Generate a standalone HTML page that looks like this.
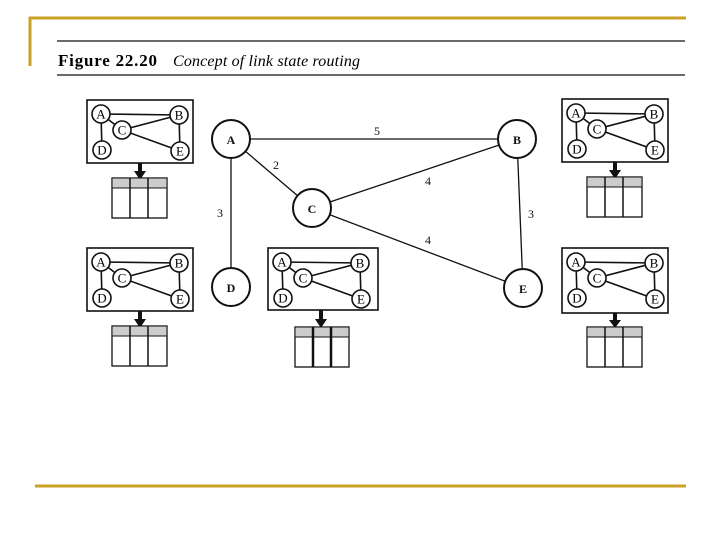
<!DOCTYPE html>
<html><head><meta charset="utf-8"><style>
html,body{margin:0;padding:0;background:#fff;}
svg{display:block;}
text{font-family:"Liberation Serif",serif;}
</style></head><body>
<svg width="720" height="540" viewBox="0 0 720 540" xmlns="http://www.w3.org/2000/svg">
<line x1="29" y1="18" x2="686" y2="18" stroke="#c9a227" stroke-width="3"/>
<line x1="30" y1="17" x2="30" y2="66" stroke="#c9a227" stroke-width="3"/>
<line x1="35" y1="486" x2="686" y2="486" stroke="#c9a227" stroke-width="3"/>
<line x1="57" y1="41" x2="685" y2="41" stroke="#111" stroke-width="1.3"/>
<line x1="57" y1="75" x2="685" y2="75" stroke="#111" stroke-width="1.3"/>
<text x="58" y="66" font-size="17" font-weight="bold" textLength="99">Figure 22.20</text>
<text x="173" y="66" font-size="16" font-style="italic" textLength="187">Concept of link state routing</text>

<g stroke="#111" stroke-width="1.3" fill="none">
<line x1="231" y1="139" x2="517" y2="139"/>
<line x1="231" y1="139" x2="312" y2="208"/>
<line x1="231" y1="139" x2="231" y2="287"/>
<line x1="312" y1="208" x2="517" y2="139"/>
<line x1="312" y1="208" x2="523" y2="288"/>
<line x1="517" y1="139" x2="523" y2="288"/>
</g>
<g stroke="#111" stroke-width="2" fill="#fff">
<circle cx="231" cy="139" r="19"/><circle cx="517" cy="139" r="19"/>
<circle cx="312" cy="208" r="19"/><circle cx="231" cy="287" r="19"/>
<circle cx="523" cy="288" r="19"/>
</g>
<g font-size="12" text-anchor="middle" fill="#111" font-weight="bold">
<text x="231" y="144">A</text><text x="517" y="144">B</text><text x="312" y="213">C</text>
<text x="231" y="292">D</text><text x="523" y="293">E</text>
</g>
<g font-size="12" text-anchor="middle" fill="#111">
<text x="377" y="135">5</text><text x="276" y="169">2</text><text x="428" y="185">4</text>
<text x="220" y="217">3</text><text x="531" y="218">3</text><text x="428" y="244">4</text>
</g>

<g transform="translate(87,100)">
<rect x="0" y="0" width="106" height="63" fill="#fff" stroke="#111" stroke-width="1.6"/>
<g stroke="#111" stroke-width="1.6"><line x1="14" y1="14" x2="92" y2="15"/><line x1="14" y1="14" x2="35" y2="30"/><line x1="14" y1="14" x2="15" y2="50"/><line x1="35" y1="30" x2="92" y2="15"/><line x1="35" y1="30" x2="93" y2="51"/><line x1="92" y1="15" x2="93" y2="51"/></g>
<g stroke="#111" stroke-width="1.6" fill="#fff"><circle cx="14" cy="14" r="9"/><circle cx="92" cy="15" r="9"/><circle cx="35" cy="30" r="9"/><circle cx="15" cy="50" r="9"/><circle cx="93" cy="51" r="9"/></g>
<g font-size="13" text-anchor="middle"><text x="14" y="18.5">A</text><text x="92" y="19.5">B</text><text x="35" y="34.5">C</text><text x="15" y="54.5">D</text><text x="93" y="55.5">E</text></g>
<line x1="53" y1="63" x2="53" y2="72" stroke="#111" stroke-width="4"/><polygon points="47,71 59,71 53,80" fill="#111"/>
<rect x="25" y="78" width="55" height="40" fill="#fff" stroke="#111" stroke-width="1.3"/>
<rect x="25" y="78" width="55" height="10" fill="#ccc" stroke="#111" stroke-width="1"/>
<line x1="43" y1="78" x2="43" y2="118" stroke="#111" stroke-width="1.5"/><line x1="61" y1="78" x2="61" y2="118" stroke="#111" stroke-width="1.5"/>
</g>
<g transform="translate(562,99)">
<rect x="0" y="0" width="106" height="63" fill="#fff" stroke="#111" stroke-width="1.6"/>
<g stroke="#111" stroke-width="1.6"><line x1="14" y1="14" x2="92" y2="15"/><line x1="14" y1="14" x2="35" y2="30"/><line x1="14" y1="14" x2="15" y2="50"/><line x1="35" y1="30" x2="92" y2="15"/><line x1="35" y1="30" x2="93" y2="51"/><line x1="92" y1="15" x2="93" y2="51"/></g>
<g stroke="#111" stroke-width="1.6" fill="#fff"><circle cx="14" cy="14" r="9"/><circle cx="92" cy="15" r="9"/><circle cx="35" cy="30" r="9"/><circle cx="15" cy="50" r="9"/><circle cx="93" cy="51" r="9"/></g>
<g font-size="13" text-anchor="middle"><text x="14" y="18.5">A</text><text x="92" y="19.5">B</text><text x="35" y="34.5">C</text><text x="15" y="54.5">D</text><text x="93" y="55.5">E</text></g>
<line x1="53" y1="63" x2="53" y2="72" stroke="#111" stroke-width="4"/><polygon points="47,71 59,71 53,80" fill="#111"/>
<rect x="25" y="78" width="55" height="40" fill="#fff" stroke="#111" stroke-width="1.3"/>
<rect x="25" y="78" width="55" height="10" fill="#ccc" stroke="#111" stroke-width="1"/>
<line x1="43" y1="78" x2="43" y2="118" stroke="#111" stroke-width="1.5"/><line x1="61" y1="78" x2="61" y2="118" stroke="#111" stroke-width="1.5"/>
</g>
<g transform="translate(87,248)">
<rect x="0" y="0" width="106" height="63" fill="#fff" stroke="#111" stroke-width="1.6"/>
<g stroke="#111" stroke-width="1.6"><line x1="14" y1="14" x2="92" y2="15"/><line x1="14" y1="14" x2="35" y2="30"/><line x1="14" y1="14" x2="15" y2="50"/><line x1="35" y1="30" x2="92" y2="15"/><line x1="35" y1="30" x2="93" y2="51"/><line x1="92" y1="15" x2="93" y2="51"/></g>
<g stroke="#111" stroke-width="1.6" fill="#fff"><circle cx="14" cy="14" r="9"/><circle cx="92" cy="15" r="9"/><circle cx="35" cy="30" r="9"/><circle cx="15" cy="50" r="9"/><circle cx="93" cy="51" r="9"/></g>
<g font-size="13" text-anchor="middle"><text x="14" y="18.5">A</text><text x="92" y="19.5">B</text><text x="35" y="34.5">C</text><text x="15" y="54.5">D</text><text x="93" y="55.5">E</text></g>
<line x1="53" y1="63" x2="53" y2="72" stroke="#111" stroke-width="4"/><polygon points="47,71 59,71 53,80" fill="#111"/>
<rect x="25" y="78" width="55" height="40" fill="#fff" stroke="#111" stroke-width="1.3"/>
<rect x="25" y="78" width="55" height="10" fill="#ccc" stroke="#111" stroke-width="1"/>
<line x1="43" y1="78" x2="43" y2="118" stroke="#111" stroke-width="1.5"/><line x1="61" y1="78" x2="61" y2="118" stroke="#111" stroke-width="1.5"/>
</g>
<g transform="translate(268,248)">
<rect x="0" y="0" width="110" height="62" fill="#fff" stroke="#111" stroke-width="1.6"/>
<g stroke="#111" stroke-width="1.6"><line x1="14" y1="14" x2="92" y2="15"/><line x1="14" y1="14" x2="35" y2="30"/><line x1="14" y1="14" x2="15" y2="50"/><line x1="35" y1="30" x2="92" y2="15"/><line x1="35" y1="30" x2="93" y2="51"/><line x1="92" y1="15" x2="93" y2="51"/></g>
<g stroke="#111" stroke-width="1.6" fill="#fff"><circle cx="14" cy="14" r="9"/><circle cx="92" cy="15" r="9"/><circle cx="35" cy="30" r="9"/><circle cx="15" cy="50" r="9"/><circle cx="93" cy="51" r="9"/></g>
<g font-size="13" text-anchor="middle"><text x="14" y="18.5">A</text><text x="92" y="19.5">B</text><text x="35" y="34.5">C</text><text x="15" y="54.5">D</text><text x="93" y="55.5">E</text></g>
<line x1="53" y1="62" x2="53" y2="72" stroke="#111" stroke-width="4"/><polygon points="47,71 59,71 53,80" fill="#111"/>
<rect x="27" y="79" width="54" height="40" fill="#fff" stroke="#111" stroke-width="1.3"/>
<rect x="27" y="79" width="54" height="10" fill="#ccc" stroke="#111" stroke-width="1"/>
<line x1="45" y1="79" x2="45" y2="119" stroke="#111" stroke-width="2.5"/><line x1="63" y1="79" x2="63" y2="119" stroke="#111" stroke-width="2.5"/>
</g>
<g transform="translate(562,248)">
<rect x="0" y="0" width="106" height="65" fill="#fff" stroke="#111" stroke-width="1.6"/>
<g stroke="#111" stroke-width="1.6"><line x1="14" y1="14" x2="92" y2="15"/><line x1="14" y1="14" x2="35" y2="30"/><line x1="14" y1="14" x2="15" y2="50"/><line x1="35" y1="30" x2="92" y2="15"/><line x1="35" y1="30" x2="93" y2="51"/><line x1="92" y1="15" x2="93" y2="51"/></g>
<g stroke="#111" stroke-width="1.6" fill="#fff"><circle cx="14" cy="14" r="9"/><circle cx="92" cy="15" r="9"/><circle cx="35" cy="30" r="9"/><circle cx="15" cy="50" r="9"/><circle cx="93" cy="51" r="9"/></g>
<g font-size="13" text-anchor="middle"><text x="14" y="18.5">A</text><text x="92" y="19.5">B</text><text x="35" y="34.5">C</text><text x="15" y="54.5">D</text><text x="93" y="55.5">E</text></g>
<line x1="53" y1="65" x2="53" y2="73" stroke="#111" stroke-width="4"/><polygon points="47,72 59,72 53,80" fill="#111"/>
<rect x="25" y="79" width="55" height="40" fill="#fff" stroke="#111" stroke-width="1.3"/>
<rect x="25" y="79" width="55" height="10" fill="#ccc" stroke="#111" stroke-width="1"/>
<line x1="43" y1="79" x2="43" y2="119" stroke="#111" stroke-width="1.5"/><line x1="61" y1="79" x2="61" y2="119" stroke="#111" stroke-width="1.5"/>
</g>
</svg>
</body></html>
